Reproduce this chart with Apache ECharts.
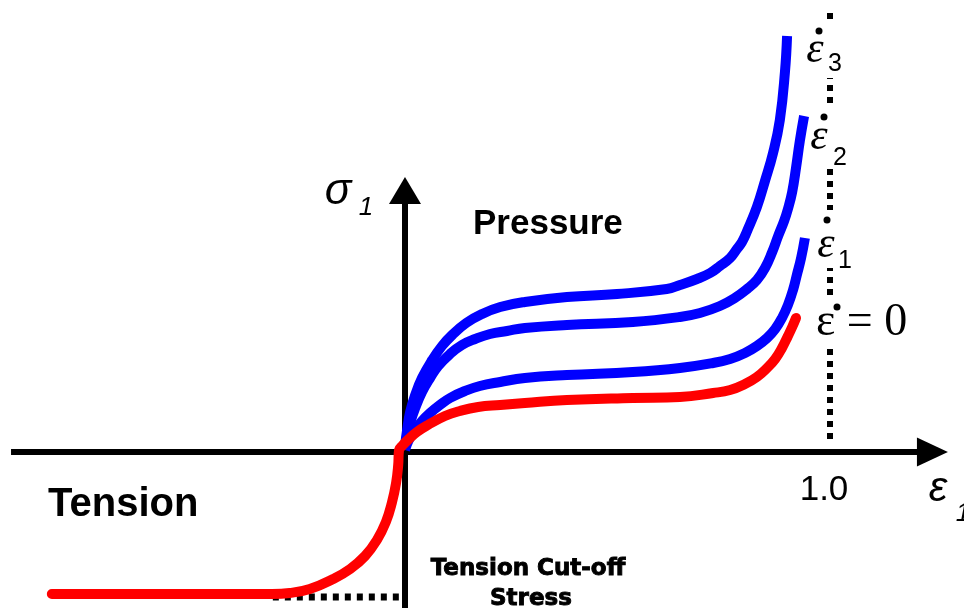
<!DOCTYPE html>
<html>
<head>
<meta charset="utf-8">
<script src="https://cdn.jsdelivr.net/npm/echarts@6/dist/echarts.min.js"></script>
<style>
  html, body { margin: 0; padding: 0; background: #fff; }
  #chart { width: 964px; height: 614px; }
</style>
</head>
<body>
<div id="chart"></div>
<script>
// strain (1.0 = unit strain) and stress (arbitrary units)
const redStrain = [-0.831, -0.600, -0.313, -0.271, -0.224, -0.169, -0.129, -0.094, -0.066, -0.045, -0.031, -0.021, -0.016, -0.014, -0.007, 0.009, 0.028, 0.054, 0.094, 0.129, 0.172, 0.224, 0.282, 0.381, 0.536, 0.647, 0.725, 0.765, 0.800, 0.828, 0.852, 0.871, 0.887, 0.901, 0.911, 0.920];
const redStress = [-1.42, -1.42, -1.42, -1.41, -1.37, -1.27, -1.17, -1.04, -0.88, -0.70, -0.51, -0.31, -0.13, 0.02, 0.06, 0.13, 0.20, 0.27, 0.36, 0.41, 0.45, 0.47, 0.49, 0.52, 0.54, 0.55, 0.59, 0.62, 0.68, 0.75, 0.84, 0.93, 1.04, 1.16, 1.25, 1.34];

const rate1Strain = [0, 0.009, 0.024, 0.040, 0.059, 0.082, 0.106, 0.141, 0.176, 0.224, 0.282, 0.381, 0.536, 0.647, 0.725, 0.765, 0.800, 0.828, 0.852, 0.871, 0.887, 0.901, 0.913, 0.922, 0.932, 0.941];
const rate1Stress = [0.02, 0.12, 0.22, 0.31, 0.39, 0.47, 0.54, 0.61, 0.66, 0.70, 0.74, 0.77, 0.80, 0.84, 0.89, 0.93, 0.99, 1.06, 1.14, 1.23, 1.34, 1.47, 1.62, 1.77, 1.94, 2.14];

const rate2Strain = [0, 0.005, 0.012, 0.024, 0.040, 0.059, 0.078, 0.106, 0.134, 0.165, 0.200, 0.240, 0.282, 0.381, 0.536, 0.647, 0.694, 0.741, 0.776, 0.805, 0.828, 0.847, 0.864, 0.878, 0.892, 0.901, 0.911, 0.920, 0.929, 0.939];
const rate2Stress = [0.04, 0.17, 0.29, 0.44, 0.60, 0.74, 0.86, 0.98, 1.07, 1.13, 1.18, 1.21, 1.24, 1.27, 1.30, 1.35, 1.39, 1.46, 1.54, 1.63, 1.72, 1.84, 2.00, 2.16, 2.31, 2.43, 2.60, 2.84, 3.11, 3.36];

const rate3Strain = [0, 0.005, 0.012, 0.024, 0.040, 0.064, 0.087, 0.111, 0.144, 0.181, 0.224, 0.282, 0.381, 0.499, 0.616, 0.647, 0.687, 0.718, 0.741, 0.765, 0.781, 0.793, 0.805, 0.828, 0.847, 0.866, 0.882, 0.894, 0.899];
const rate3Stress = [0.06, 0.22, 0.40, 0.57, 0.74, 0.92, 1.06, 1.17, 1.29, 1.38, 1.45, 1.50, 1.55, 1.58, 1.63, 1.67, 1.73, 1.79, 1.86, 1.94, 2.03, 2.10, 2.21, 2.45, 2.71, 2.99, 3.32, 3.80, 4.16];

// reference lines: unit strain and the tension cut-off stress
const unitStrain = 1.0;
const unitStrainSpan = [4.39, 0.11];
const cutOffStress = -1.45;
const cutOffSpan = [-0.311, -0.005];

// axes of the sketch (x from..to, y from..to)
const xAxisSpan = [-0.927, 1.241];
const yAxisSpan = [-1.56, 2.615];

const xTickValues = [1.0];
const xTickLabels = ['1.0'];

function zip(xs, ys) {
  return xs.map(function (x, i) { return [x, ys[i]]; });
}

function curve(name, xs, ys, color, cap) {
  return {
    name: name,
    type: 'line',
    data: zip(xs, ys),
    smooth: 0.45,
    symbol: 'none',
    clip: false,
    silent: true,
    lineStyle: { color: color, width: 10, cap: cap },
    z: 5
  };
}

const chart = echarts.init(document.getElementById('chart'));

// little helpers for the hand-placed annotations
function text(x, y, str, font, align, heavy) {
  const style = { text: str, font: font, fill: '#000', align: align || 'center', verticalAlign: 'middle' };
  if (heavy) {
    style.stroke = '#000';
    style.lineWidth = 0.9;
  }
  return { type: 'text', x: x, y: y, z: 100, style: style };
}
function dot(cx, cy) {
  return { type: 'circle', z: 101, shape: { cx: cx, cy: cy, r: 3.5 }, style: { fill: '#000' } };
}
function blank(x, y, w, h) {
  return { type: 'rect', z: 99, shape: { x: x, y: y, width: w, height: h }, style: { fill: '#fff' } };
}

const greekIt = 'italic 44px "Liberation Serif"';
const subFont = '25px "Liberation Sans"';

const option = {
  animation: false,
  backgroundColor: '#fff',
  grid: { left: 0, right: 0, top: 0, bottom: 0 },
  xAxis: { type: 'value', min: -0.952941, max: 1.315294, show: false },
  yAxis: { type: 'value', min: -1.62, max: 4.52, show: false },
  series: [
    {
      name: 'unit strain',
      type: 'line',
      data: [[unitStrain, unitStrainSpan[0]], [unitStrain, unitStrainSpan[1]]],
      symbol: 'none',
      silent: true,
      lineStyle: { color: '#000', width: 6, type: [6, 6] },
      z: 1,
      markLine: {
        silent: true,
        symbol: ['none', 'triangle'],
        label: { show: false },
        lineStyle: { color: '#000', width: 6, type: 'solid' },
        data: [
          [{ coord: [xAxisSpan[0], 0] }, { coord: [xAxisSpan[1], 0], symbolSize: [29, 31] }],
          [{ coord: [0, yAxisSpan[0]] }, { coord: [0, yAxisSpan[1]], symbolSize: [32, 27] }]
        ]
      }
    },
    {
      name: 'cut-off',
      type: 'line',
      data: [[cutOffSpan[0], cutOffStress], [cutOffSpan[1], cutOffStress]],
      symbol: 'none',
      silent: true,
      lineStyle: { color: '#000', width: 7, type: [6, 6] },
      z: 1
    },
    curve('rate3', rate3Strain, rate3Stress, '#0000ff', 'butt'),
    curve('rate2', rate2Strain, rate2Stress, '#0000ff', 'butt'),
    curve('rate1', rate1Strain, rate1Stress, '#0000ff', 'butt'),
    curve('rate0', redStrain, redStress, '#ff0000', 'round')
  ],
  graphic: [
    text(473, 224, 'Pressure', 'bold 35px "Liberation Sans"', 'left'),
    text(48, 505, 'Tension', 'bold 40px "Liberation Sans"', 'left'),
    text(528, 569, 'Tension Cut-off', 'bold 23px "DejaVu Sans"', 'center', true),
    text(531, 599, 'Stress', 'bold 23px "DejaVu Sans"', 'center', true),
    text(824, 490, xTickLabels[0], '35px "Liberation Sans"'),
    // axis titles
    text(338, 192, 'σ', 'italic 44px "Liberation Sans"'),
    text(366, 208, '1', 'italic 26px "Liberation Sans"'),
    text(938, 489, 'ε', 'italic 42px "Liberation Sans"'),
    text(963, 514, '1', 'italic 26px "Liberation Sans"'),
    // strain-rate labels, each knocking a gap into the dotted line
    blank(822, 20, 16, 58),
    text(815, 50, 'ε', greekIt), dot(819, 31), text(835, 64, '3', subFont),
    blank(822, 107, 16, 61),
    text(819, 137, 'ε', greekIt), dot(824, 117), text(840, 158, '2', subFont),
    blank(822, 210, 16, 58),
    text(826, 245, 'ε', greekIt), dot(827, 220), text(845, 261, '1', subFont),
    blank(822, 299, 16, 47),
    text(816, 323, 'ε = 0', '46px "Liberation Serif"', 'left'), dot(837, 307)
  ]
};

chart.setOption(option);
</script>
</body>
</html>
